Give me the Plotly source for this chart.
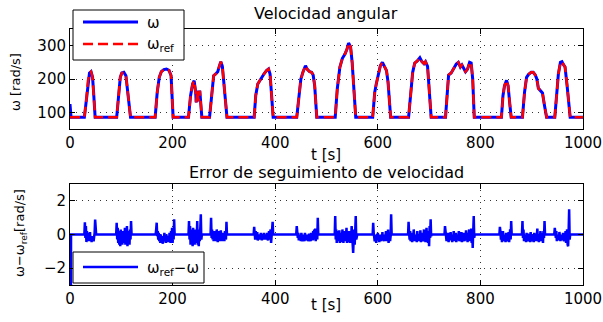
import plotly.graph_objects as go

# ---------------- data ----------------
# key points of the reference speed (t [s], omega_ref [rad/s])
omega_t = [0, 2,
    28, 32, 35, 38, 41, 44, 46, 49,
    91, 95, 98, 101, 105, 109, 113, 118,
    166, 170, 174, 178, 183, 188, 193, 197, 201,
    231, 235, 239, 242, 245, 246, 248, 250, 252, 253, 257,
    272, 276, 280, 284, 288, 291, 294, 297, 300, 306,
    359, 362, 366, 370, 374, 378, 383, 387, 390, 396,
    442, 446, 450, 454, 459, 463, 467, 471, 474, 477, 481,
    517, 521, 526, 531, 536, 540, 543, 547, 550, 554, 557,
    590, 594, 597, 601, 605, 609, 613, 617, 620, 625,
    660, 664, 668, 672, 677, 682, 686, 690, 693, 697, 700, 704,
    732, 735, 738, 743, 748, 753, 757, 761, 764, 768, 771, 775, 779, 782, 785, 788,
    841, 844, 847, 851, 854, 857, 860,
    882, 886, 890, 894, 899, 903, 907, 910, 913, 917, 921, 925, 929,
    945, 948, 952, 956, 959, 962, 965, 969, 972, 975,
    1000]
omega_ref = [85, 85,
    85, 140, 195, 218, 222, 205, 160, 85,
    85, 160, 205, 218, 220, 210, 160, 85,
    85, 160, 205, 222, 228, 230, 226, 210, 85,
    85, 150, 185, 195, 160, 130, 165, 140, 135, 165, 85,
    85, 160, 210, 215, 222, 238, 252, 238, 190, 85,
    85, 150, 185, 195, 208, 215, 225, 230, 215, 85,
    85, 150, 200, 220, 240, 228, 222, 220, 212, 180, 85,
    85, 170, 235, 262, 275, 290, 308, 296, 250, 150, 85,
    85, 160, 185, 215, 240, 250, 238, 225, 190, 85,
    85, 160, 220, 248, 254, 264, 252, 246, 252, 238, 180, 85,
    85, 160, 212, 218, 230, 245, 250, 236, 242, 228, 222, 230, 250, 248, 200, 85,
    85, 150, 180, 196, 180, 130, 85,
    85, 160, 205, 214, 220, 220, 212, 200, 172, 165, 158, 120, 85,
    85, 150, 215, 250, 252, 243, 236, 180, 120, 85,
    85]
# measured speed: same as the reference except the initial transient
omega_meas = [125] + omega_ref[1:]

# tracking-error bursts (1 s samples starting at burst_start)
burst_start = [28, 90, 167, 231, 274, 358, 441, 516, 590, 659, 730, 837, 881, 944]
burst_vals = [
    [0.0, 0.73, -0.2, 0.5, -0.45, 0.2, -0.35, 0.1, -0.4, 0.0, -0.3, 0.15, -0.4, -0.2, -0.45, -0.1, -0.3, -0.2, -0.4, -0.1, 0.1, 0.89, 0.0, 0.0],
    [0.0, 0.7, -0.3, 0.4, -0.5, 0.2, -0.6, 0.1, -0.7, 0.3, -0.4, -0.1, -0.6, 0.2, -0.5, 0.0, -0.3, 0.4, -0.6, 0.1, -0.5, 0.5, -0.7, 0.2, -0.4, -0.1, -0.6, 0.3, -0.3, 0.8, 0.0],
    [0.0, 0.3, 0.7, -0.1, 0.2, -0.3, 0.1, -0.4, -0.2, -0.5, 0.0, -0.3, -0.1, -0.4, -0.55, -0.2, -0.3, 0.1, -0.4, -0.2, -0.5, 0.0, -0.3, -0.1, -0.45, -0.2, -0.4, 0.1, -0.3, -0.5, 0.2, -0.2, 0.4, -0.5, 0.1, -0.3, 0.9, 0.0],
    [0.0, 0.8, -0.3, 0.5, -0.6, 0.3, -0.5, 0.2, -0.7, 0.4, -0.4, 0.0, -0.6, 0.3, -0.5, 0.2, -0.3, 0.8, -0.6, 0.2, -0.7, 0.3, -0.4, 0.5, 1.2, -0.3, 0.0],
    [0.0, 1.0, -0.2, 0.3, -0.3, 0.1, -0.4, 0.2, -0.1, -0.35, 0.1, -0.4, 0.3, -0.2, -0.45, 0.0, -0.3, 0.2, -0.4, -0.1, 0.25, -0.35, 0.0, -0.4, 0.1, -0.3, -0.1, -0.4, 0.2, -0.2, -0.3, 0.75, 0.0],
    [0.0, 0.45, 0.1, -0.3, 0.2, -0.2, -0.1, 0.15, -0.35, -0.2, 0.0, -0.3, -0.1, -0.25, 0.1, -0.2, -0.35, 0.0, -0.15, -0.3, 0.1, -0.25, -0.1, -0.3, 0.0, -0.2, 0.1, -0.25, -0.35, -0.1, 0.2, -0.3, 0.0, 0.3, -0.5, -0.2, 0.4, 0.75, 0.0],
    [0.0, 0.5, 0.2, -0.2, 0.1, -0.35, 0.0, -0.3, -0.1, -0.4, 0.1, -0.25, -0.4, 0.0, -0.3, -0.15, -0.4, 0.1, -0.2, -0.35, -0.1, -0.3, 0.0, -0.4, -0.2, 0.05, -0.3, -0.15, -0.4, 0.1, -0.25, 0.0, -0.35, 0.2, -0.3, 0.3, -0.2, 0.35, -0.4, 0.0, 0.3, -0.3, 1.0, 0.0],
    [0.0, 1.1, -0.3, 0.3, -0.5, 0.2, -0.4, 0.0, -0.3, 0.25, -0.5, -0.1, -0.35, 0.1, -0.45, 0.3, -0.2, -0.5, 0.0, -0.3, 0.2, -0.4, -0.1, 0.4, -0.5, 0.0, -0.3, -0.45, 0.2, -0.2, -0.5, 0.1, -0.3, 0.5, -0.4, 0.0, -1.1, -0.2, 0.3, -0.6, 0.2, 1.1, -0.3, 0.0, 0.0],
    [0.0, 0.7, 0.1, -0.2, -0.4, 0.0, -0.3, -0.5, -0.1, -0.35, 0.1, -0.3, -0.2, -0.45, 0.0, -0.25, -0.4, -0.1, -0.3, 0.15, -0.35, -0.2, -0.4, 0.0, -0.3, -0.15, 0.2, -0.4, -0.1, -0.3, 0.3, -0.5, -0.2, 0.1, -0.4, -0.1, 1.2, 0.0],
    [0.0, 0.75, 0.1, -0.3, 0.2, -0.4, 0.0, -0.25, -0.45, 0.1, -0.3, 0.3, -0.2, -0.4, 0.0, -0.35, -0.1, -0.45, 0.2, -0.3, -0.1, -0.4, 0.0, -0.2, 0.25, -0.45, -0.1, -0.3, 0.1, -0.4, -0.2, 0.3, -0.35, 0.0, -0.45, -0.1, 0.4, -0.3, 0.2, -0.5, 0.1, -0.7, 0.5, -0.2, 0.9, -0.1, 0.0],
    [0.0, 0.5, 0.2, -0.2, -0.4, 0.0, -0.3, 0.1, -0.45, -0.2, 0.0, -0.35, 0.15, -0.3, -0.1, -0.45, 0.0, -0.25, 0.2, -0.4, -0.1, -0.3, 0.1, -0.45, -0.2, 0.0, -0.35, -0.1, 0.2, -0.4, -0.25, 0.0, -0.3, 0.15, -0.45, -0.1, -0.3, 0.1, -0.2, -0.4, 0.0, -0.3, 0.25, -0.35, -0.1, -0.45, 0.1, -0.2, 0.3, -0.4, 0.0, -0.3, 0.35, -0.5, 0.2, -0.8, 0.4, 1.1, -0.2, 0.0],
    [0.0, 0.45, 0.2, -0.3, 0.1, -0.45, -0.1, 0.2, -0.4, 0.0, -0.3, -0.15, -0.45, 0.1, -0.25, -0.4, 0.0, -0.3, 0.15, -0.45, -0.1, 0.3, -0.3, 0.8, 0.0],
    [0.0, 0.8, -0.2, 0.3, -0.4, 0.0, -0.3, -0.1, -0.45, 0.1, -0.3, -0.2, -0.4, 0.05, -0.35, -0.1, -0.45, 0.15, -0.25, -0.4, 0.0, -0.3, -0.15, -0.45, 0.1, -0.2, -0.35, 0.0, -0.4, -0.1, 0.35, -0.3, -0.15, -0.45, 0.0, -0.3, 0.2, -0.4, -0.1, -0.3, 0.1, -0.5, 0.2, -0.2, 0.8, 0.0],
    [0.0, 0.4, 0.1, -0.2, 0.2, -0.4, 0.0, -0.3, -0.1, -0.35, 0.15, -0.25, -0.4, 0.0, -0.3, -0.1, -0.35, 0.1, -0.2, -0.4, 0.0, -0.3, 0.2, -0.5, -0.1, 0.3, -0.6, -0.7, 0.2, 1.5, -0.3, 0.0],
]
# initial transient of the error and final point
err_head_t = [0, 2]
err_head_v = [-40.0, 0.0]
err_tail_t = [1000]
err_tail_v = [0.0]

x_ticks = [0, 200, 400, 600, 800, 1000]
y1_ticks = [100, 200, 300]
y2_ticks = [-2, 0, 2]

title_top = "Velocidad angular"
title_bottom = "Error de seguimiento de velocidad"
xlabel = "t [s]"
ylabel_top = "ω [rad/s]"
ylabel_bottom = "ω−ω<sub>ref</sub>[rad/s]"
legend_top = ["ω", "ω<sub>ref</sub>"]
legend_bottom = ["ω<sub>ref</sub>−ω"]

# ---------------- build error series ----------------
err_t = list(err_head_t)
err_v = list(err_head_v)
for s, vals in zip(burst_start, burst_vals):
    err_t += [s + i for i in range(len(vals))]
    err_v += vals
err_t += err_tail_t
err_v += err_tail_v

# ---------------- figure ----------------
W, H = 603, 322
FONT = "DejaVu Sans"
BLUE = "#0000ff"
RED = "#ff0000"
RED_DASH = "10px,5px"


def px_x(p):
    return p / W


def px_y(p):
    return 1 - p / H


fig = go.Figure()
fig.add_trace(go.Scatter(x=omega_t, y=omega_meas, mode="lines", name=legend_top[0],
                         line=dict(color=BLUE, width=3), xaxis="x", yaxis="y",
                         showlegend=False))
fig.add_trace(go.Scatter(x=omega_t, y=omega_ref, mode="lines", name=legend_top[1],
                         line=dict(color=RED, width=2.5, dash=RED_DASH),
                         xaxis="x", yaxis="y", showlegend=False))
fig.add_trace(go.Scatter(x=err_t, y=err_v, mode="lines", name=legend_bottom[0],
                         line=dict(color=BLUE, width=2.5), xaxis="x2", yaxis="y2",
                         showlegend=False))

xdom = [px_x(70), px_x(583)]
axis_common = dict(showline=True, linecolor="black", linewidth=1, mirror="ticks",
                   ticks="inside", ticklen=5, tickcolor="black", automargin=False,
                   showgrid=True, gridcolor="#333", gridwidth=1, griddash="1px,5px",
                   zeroline=False, tickfont=dict(family=FONT, size=15, color="black"))

fig.update_layout(
    width=W, height=H, margin=dict(l=0, r=0, t=0, b=0),
    paper_bgcolor="white", plot_bgcolor="white",
    font=dict(family=FONT, color="black"),
    xaxis=dict(domain=xdom, range=[0, 1000], tickvals=x_ticks, anchor="y", **axis_common),
    yaxis=dict(domain=[px_y(129), px_y(29)], range=[50, 350], tickvals=y1_ticks,
               anchor="x", **axis_common),
    xaxis2=dict(domain=xdom, range=[0, 1000], tickvals=x_ticks, anchor="y2", **axis_common),
    yaxis2=dict(domain=[px_y(285), px_y(184)], range=[-3, 3], tickvals=y2_ticks,
                anchor="x2", **axis_common),
    showlegend=False,
)

# ---- legends drawn as boxes with line samples and text ----
def legend_box(x0, y0, x1, y1, items):
    fig.add_shape(type="rect", xref="paper", yref="paper",
                  x0=px_x(x0), x1=px_x(x1), y0=px_y(y1), y1=px_y(y0),
                  line=dict(color="black", width=1), fillcolor="white", layer="above")
    for (ly, color, width, dash, label) in items:
        fig.add_shape(type="line", xref="paper", yref="paper",
                      x0=px_x(x0 + 10), x1=px_x(x0 + 65), y0=px_y(ly), y1=px_y(ly),
                      line=dict(color=color, width=width, dash=dash), layer="above")
        fig.add_annotation(xref="paper", yref="paper", showarrow=False,
                           x=px_x(x0 + 72), y=px_y(ly + 1), xanchor="left", yanchor="middle",
                           text=label, font=dict(family=FONT, size=15, color="black"))


legend_box(73, 10, 184, 60, [(22, BLUE, 3, "solid", legend_top[0]),
                             (44, RED, 2.5, RED_DASH, legend_top[1])])
legend_box(73, 252, 204, 283, [(267, BLUE, 2.5, "solid", legend_bottom[0])])

ann = [
    (title_top, 326, 13, 16, 0),
    (title_bottom, 326, 172, 16, 0),
    (xlabel, 326, 155, 15, 0),
    (xlabel, 326, 305, 15, 0),
    (ylabel_top, 16, 82, 13, -90),
    (ylabel_bottom, 20, 233, 13, -90),
]
for text, x, y, size, ang in ann:
    fig.add_annotation(xref="paper", yref="paper", showarrow=False,
                       xanchor="center", yanchor="middle",
                       font=dict(family=FONT, color="black", size=size),
                       text=text, x=px_x(x), y=px_y(y), textangle=ang)

# remove the browser's default 8px page margin so the figure sits at (0, 0)
fig.write_html("out.html", config={"displayModeBar": False},
               post_script="document.body.style.margin='0';document.body.style.overflow='hidden';")
